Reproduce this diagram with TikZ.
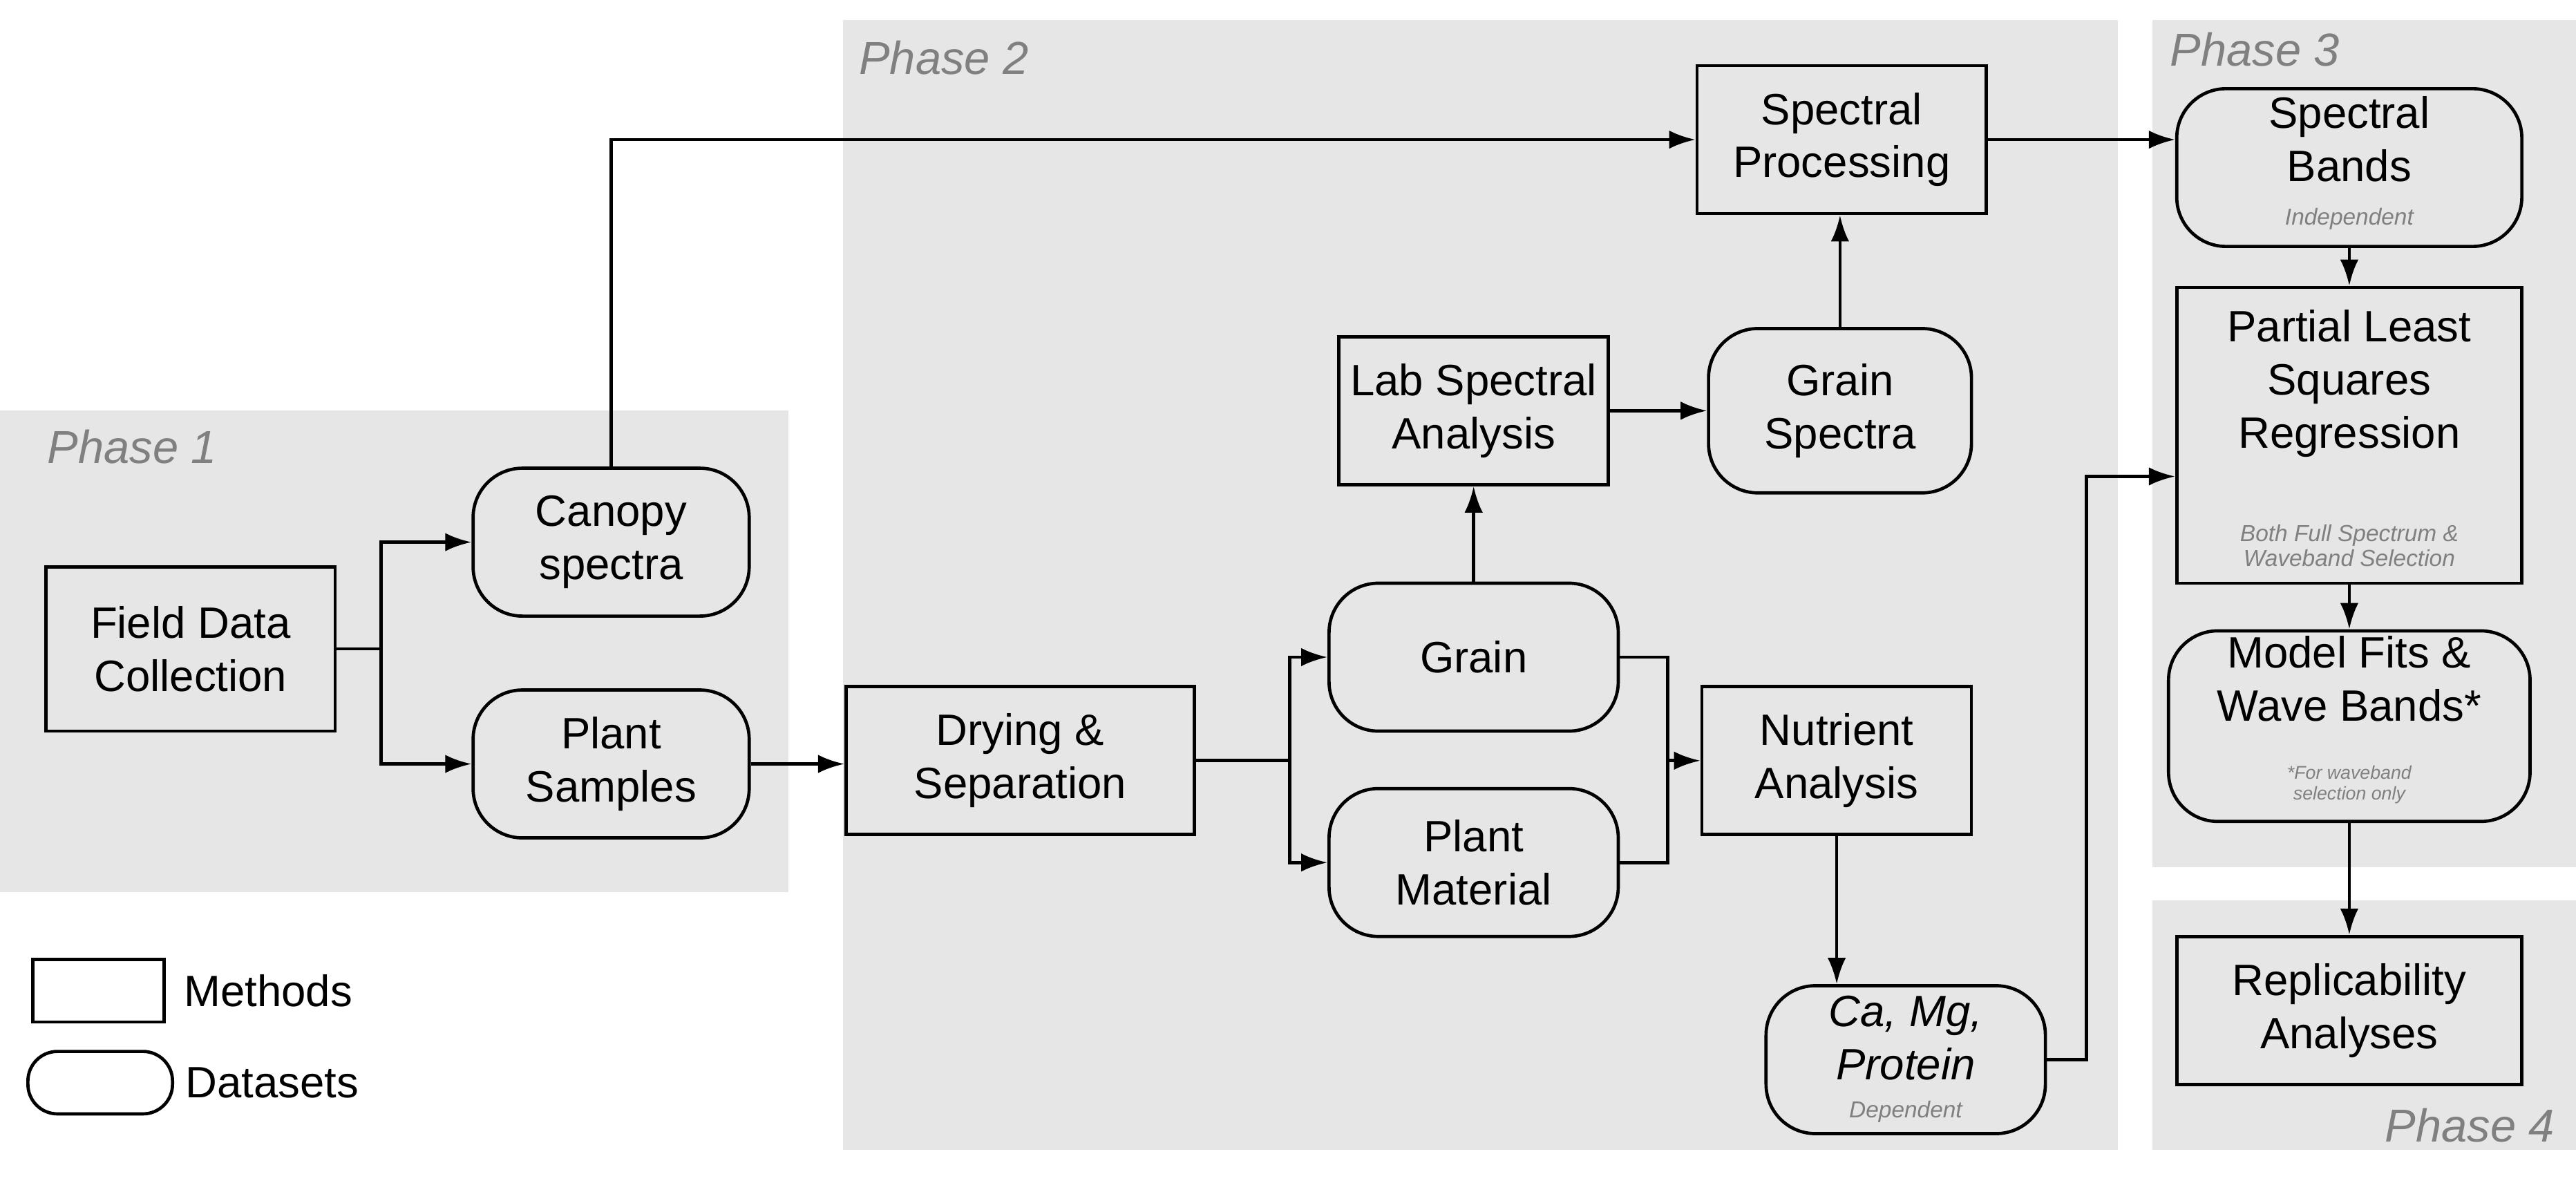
\documentclass[tikz,border=0pt]{standalone}
\usepackage{fontspec}
\setmainfont{Liberation Sans}
\usetikzlibrary{positioning,arrows.meta}
\definecolor{phasebg}{HTML}{E6E6E6}
\definecolor{phasetxt}{HTML}{808080}
\begin{document}
\begin{tikzpicture}[x=0.025cm,y=-0.025cm,
method/.style={draw,line width=1.4pt,rectangle,align=center,inner sep=2pt,
    font=\fontsize{19}{23}\selectfont,minimum width=4.4cm,minimum height=2.25cm},
data/.style={method,rounded corners=0.75cm},
note/.style={font=\fontsize{10}{11}\selectfont\itshape,text=phasetxt,align=center},
phase/.style={font=\fontsize{20}{23}\selectfont\itshape,text=phasetxt},
conn/.style={line width=1.4pt,-{Latex[length=0.4cm,width=0.28cm]}}]
\useasboundingbox (0,0) rectangle (1568,720);
% phase backgrounds
\fill[phasebg] (0,250) rectangle (480,543);
\fill[phasebg] (513,12) rectangle (1289,700);
\fill[phasebg] (1310,12) rectangle (1568,528);
\fill[phasebg] (1310,548) rectangle (1568,700);
\node[phase,anchor=west] (p1) at (24,272) {Phase 1};
\node[phase,anchor=west] (p2) at (518,35) {Phase 2};
\node[phase,anchor=west] (p3) at (1316,30) {Phase 3};
\node[phase,anchor=east] (p4) at (1560,685) {Phase 4};

% nodes
\node (field) [method,minimum width=4.4cm,minimum height=2.5cm] at (116,395) {Field Data\\Collection};
\node (canopy) [data,minimum width=4.2cm] at (372,330) {Canopy\\spectra};
\node (samples) [data,minimum width=4.2cm] at (372,465) {Plant\\Samples};
\node (drying) [method,minimum width=5.3cm] at (621,463) {Drying \&\\Separation};
\node (grain) [data] at (897,400) {Grain};
\node (material) [data] at (897,525) {Plant\\Material};
\node (lab) [method,minimum width=4.1cm] at (897,250) {Lab Spectral\\Analysis};
\node (gspec) [data,minimum width=4cm,minimum height=2.5cm] at (1120,250) {Grain\\Spectra};
\node (proc) [method] at (1121,85) {Spectral\\Processing};
\node (nutr) [method,minimum width=4.1cm] at (1118,463) {Nutrient\\Analysis};
\node (camg) [data,minimum width=4.25cm,font=\fontsize{19}{23}\selectfont\itshape] at (1160,645) {Ca, Mg,\\Protein\\[-4pt]\hbox{}};
\node[note,anchor=south] (dep) at (1160,688) {Dependent};
\node (bands) [data,minimum width=5.25cm,minimum height=2.4cm] at (1430,102) {Spectral\\Bands\\[2pt]\hbox{}};
\node[note,anchor=south] (indep) at (1430,145) {Independent};
\node (plsr) [method,minimum width=5.25cm,minimum height=4.5cm] at (1430,265) {Partial Least\\Squares\\Regression\\[26pt]\hbox{}};
\node[note,anchor=south] (full) at (1430,350) {Both Full Spectrum \&\\Waveband Selection};
\node (fits) [data,minimum width=5.5cm,minimum height=2.9cm] at (1430,442) {Model Fits \&\\Wave Bands*\\[18pt]\hbox{}};
\node[note,font=\fontsize{8}{9}\selectfont\itshape,anchor=south] (only) at (1430,494) {*For waveband\\selection only};
\node (repl) [method,minimum width=5.25cm] at (1430,615) {Replicability\\Analyses};

% legend
\node (lm) [draw,line width=1.4pt,minimum width=2cm,minimum height=0.95cm] at (60,603) {};
\node (lmt) [right=0.15cm of lm,font=\fontsize{19}{23}\selectfont] {Methods};
\node (ld) [draw,line width=1.4pt,rounded corners=0.45cm,minimum width=2.2cm,minimum height=0.95cm] at (61,659) {};
\node (ldt) [right=0.05cm of ld,font=\fontsize{19}{23}\selectfont] {Datasets};

% connectors
\coordinate (s1) at (232,395);
\draw[line width=1.4pt] (field.east) -- (s1);
\draw[conn] (s1) |- (canopy.west);
\draw[conn] (s1) |- (samples.west);
\draw[conn] (canopy.north) |- (proc.west);
\draw[conn] (samples.east) -- (drying.west|-samples.east);
\coordinate (s2) at (785,463);
\draw[line width=1.4pt] (drying.east) -- (s2);
\draw[conn] (s2) |- (grain.west);
\draw[conn] (s2) |- (material.west);
\draw[conn] (grain.north) -- (lab.south);
\draw[conn] (lab.east) -- (gspec.west);
\draw[conn] (gspec.north) -- (proc.south-|gspec.north);
\draw[conn] (proc.east) -- (bands.west|-proc.east);
\coordinate (s3) at (1015,463);
\draw[line width=1.4pt] (grain.east) -| (s3) |- (material.east);
\draw[conn] (s3) -- (nutr.west);
\draw[conn] (nutr.south) -- (camg.north-|nutr.south);
\coordinate (s4) at (1270,290);
\draw[conn] (camg.east) -| (s4) -- (plsr.west|-s4);
\draw[conn] (bands.south) -- (plsr.north);
\draw[conn] (plsr.south) -- (fits.north);
\draw[conn] (fits.south) -- (repl.north);
\end{tikzpicture}
\end{document}
